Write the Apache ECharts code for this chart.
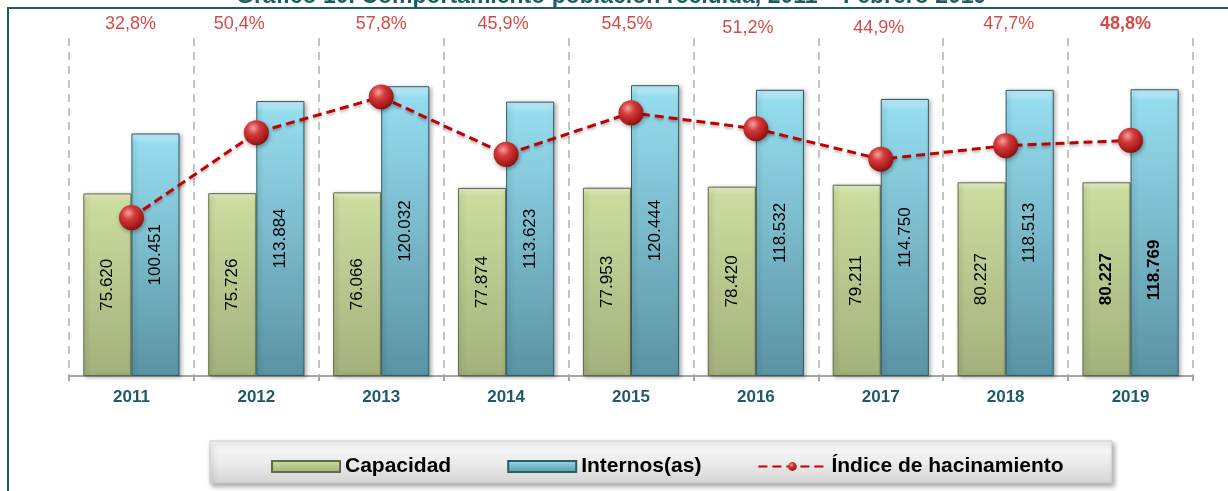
<!DOCTYPE html>
<html>
<head>
<meta charset="utf-8">
<script src="https://cdn.jsdelivr.net/npm/echarts@6/dist/echarts.min.js"></script>
<style>
    html, body { margin: 0; padding: 0; background: #fff; }
    #chart { width: 1228px; height: 491px; }
</style>
</head>
<body>
<div id="chart"></div>
<script>
// datos del gráfico
const years = ["2011", "2012", "2013", "2014", "2015", "2016", "2017", "2018", "2019"];
const capacidad = [75620, 75726, 76066, 77874, 77953, 78420, 79211, 80227, 80227];
const internos = [100451, 113884, 120032, 113623, 120444, 118532, 114750, 118513, 118769];
const hacinamiento = [32.8, 50.4, 57.8, 45.9, 54.5, 51.2, 44.9, 47.7, 48.8];

const POP_MAX = 140000;
const PCT_MAX = 70;
// pequeños desplazamientos de las etiquetas de porcentaje (como en el original)
const pctShift = [[-1, 0], [-17, 0], [0, 0], [-3, 0], [-4, 0], [-8, 4], [-2, 4], [3, 0], [-5, 0]];

const teal = "#1f5b67";
const red = "#c00000";
const last = years.length - 1;

const fmtNum = (v) => String(v).replace(/\B(?=(\d{3})+(?!\d))/g, ".");
const fmtPct = (v) => v.toFixed(1).replace(".", ",") + "%";

const chart = echarts.init(document.getElementById("chart"));

// barras con degradado tipo 3D
const barSeries = (name, values, colors, border, lastLabel) => ({
    name: name,
    type: "bar",
    barGap: "0%",
    barCategoryGap: "23%",
    data: values.map((v, i) => ({
        value: v,
        label: i === last ? lastLabel : undefined,
    })),
    itemStyle: {
        color: new echarts.graphic.LinearGradient(0, 0, 0, 1, [
            { offset: 0, color: colors[0] },
            { offset: 0.04, color: colors[1] },
            { offset: 1, color: colors[2] },
        ]),
        borderColor: border,
        borderWidth: 1,
        shadowColor: "rgba(0,0,0,0.3)",
        shadowBlur: 4,
        shadowOffsetX: 2,
        shadowOffsetY: 1,
    },
    label: {
        show: true,
        position: "inside",
        rotate: 90,
        formatter: (p) => fmtNum(p.value),
        fontFamily: "Liberation Sans, Arial, sans-serif",
        fontSize: 17,
        color: "#000",
    },
});

chart.setOption({
    animation: false,
    backgroundColor: "#fff",
    title: {
        text: "Gráfico 10. Comportamiento población recluida, 2011 – Febrero 2019",
        left: 236,
        top: -15,
        padding: 0,
        textStyle: {
            fontFamily: "Liberation Sans, Arial, sans-serif",
            fontSize: 23,
            fontWeight: "bold",
            color: teal,
        },
    },
    graphic: [
        {
            type: "polyline",
            shape: { points: [[8, 491], [8, 8], [1228, 8]] },
            style: { stroke: teal, lineWidth: 2, fill: null },
            z: 10,
        },
        {
            // caja de la leyenda
            type: "rect",
            shape: { x: 210, y: 441, width: 902, height: 42 },
            style: {
                fill: new echarts.graphic.LinearGradient(0, 0, 0, 1, [
                    { offset: 0, color: "#fafafa" },
                    { offset: 0.5, color: "#ececec" },
                    { offset: 1, color: "#d4d4d4" },
                ]),
                stroke: "#c8c8c8",
                lineWidth: 1,
                shadowColor: "rgba(0,0,0,0.35)",
                shadowBlur: 5,
                shadowOffsetX: 2,
                shadowOffsetY: 3,
            },
            z: 0,
        },
    ],
    legend: {
        left: 266,
        top: 451,
        itemWidth: 68,
        itemHeight: 11,
        itemGap: 56,
        data: [
            { name: "Capacidad", icon: "rect" },
            { name: "Internos(as)", icon: "rect" },
            { name: "Índice de hacinamiento" },
        ],
        textStyle: {
            fontFamily: "Liberation Sans, Arial, sans-serif",
            fontSize: 21,
            fontWeight: "bold",
            color: "#000",
        },
        z: 5,
    },
    grid: { left: 69, right: 35, top: 38, bottom: 115 },
    xAxis: {
        type: "category",
        data: years,
        axisLine: { lineStyle: { color: "#a6a6a6", width: 2 } },
        axisTick: { show: true, length: 5, lineStyle: { color: "#a6a6a6", width: 2 } },
        axisLabel: {
            margin: 13,
            fontFamily: "Liberation Sans, Arial, sans-serif",
            fontSize: 17,
            fontWeight: "bold",
            color: teal,
        },
        splitLine: {
            show: true,
            lineStyle: { color: "#c4c4c4", width: 2, type: [8, 6] },
        },
    },
    yAxis: [
        { type: "value", min: 0, max: POP_MAX, show: false, splitLine: { show: false } },
        { type: "value", min: 0, max: PCT_MAX, show: false, splitLine: { show: false } },
    ],
    series: [
        barSeries("Capacidad", capacidad, ["#eef4d4", "#ccdc9e", "#a3b07c"], "#5e6b45",
            { fontWeight: "bold" }),
        barSeries("Internos(as)", internos, ["#c8f0fa", "#95dcee", "#5a93a3"], "#2d5c69",
            { fontWeight: "bold", position: ["50%", "63%"], align: "center", verticalAlign: "middle" }),
        {
            name: "Índice de hacinamiento",
            type: "line",
            yAxisIndex: 1,
            data: hacinamiento,
            symbol: "circle",
            symbolSize: 25,
            z: 5,
            lineStyle: {
                color: red,
                width: 3,
                type: [9, 5],
                shadowColor: "rgba(0,0,0,0.3)",
                shadowBlur: 3,
                shadowOffsetY: 2,
            },
            itemStyle: {
                color: new echarts.graphic.RadialGradient(0.38, 0.32, 0.75, [
                    { offset: 0, color: "#f4a0a0" },
                    { offset: 0.35, color: "#d43a3a" },
                    { offset: 0.8, color: "#a51818" },
                    { offset: 1, color: "#6e0c0c" },
                ]),
                borderWidth: 0,
                shadowColor: "rgba(0,0,0,0.35)",
                shadowBlur: 4,
                shadowOffsetX: 1,
                shadowOffsetY: 2,
            },
        },
        {
            // etiquetas de porcentaje en la parte superior
            name: "pct",
            type: "scatter",
            yAxisIndex: 1,
            symbolSize: 1,
            silent: true,
            itemStyle: { color: "rgba(0,0,0,0)" },
            data: hacinamiento.map((v, i) => ({
                value: [years[i], PCT_MAX],
                label: {
                    formatter: fmtPct(v),
                    offset: [pctShift[i][0], -14 + pctShift[i][1]],
                    fontWeight: i === last ? "bold" : "normal",
                },
            })),
            label: {
                show: true,
                position: "inside",
                fontFamily: "Liberation Sans, Arial, sans-serif",
                fontSize: 18,
                color: "#cc1a1a",
            },
        },
    ],
});
</script>
</body>
</html>
